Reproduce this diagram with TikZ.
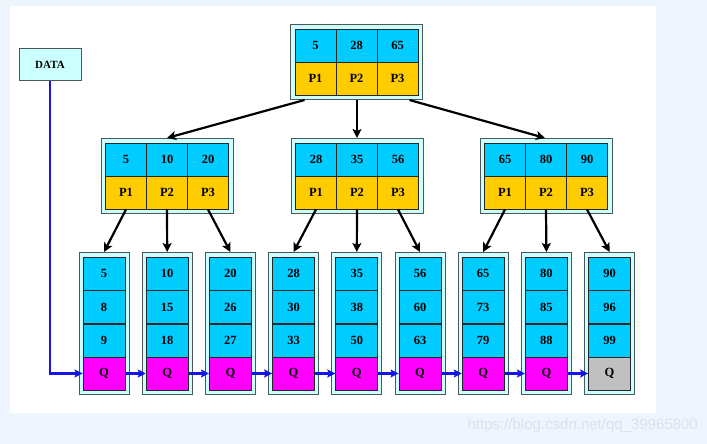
\documentclass[tikz,border=0pt]{standalone}
\usepackage{fontspec}
\setmainfont{Liberation Serif}
\newfontfamily\wmfont{Liberation Sans}
\usetikzlibrary{arrows.meta,calc}
\definecolor{bgblue}{HTML}{EEF5FC}
\definecolor{cellcyan}{HTML}{00CCFF}
\definecolor{cellgold}{HTML}{FFCC00}
\definecolor{cellmag}{HTML}{FF00FF}
\definecolor{cellgray}{HTML}{C0C0C0}
\definecolor{boxfill}{HTML}{CCFFFF}
\definecolor{boxline}{HTML}{4A5858}
\definecolor{linkblue}{HTML}{1414E6}
\definecolor{wmark}{HTML}{DCE2E9}
\tikzset{
  outerH/.style={rectangle, draw=boxline, fill=boxfill, line width=1pt, minimum width=132pt, minimum height=75pt, inner sep=0pt},
  outerV/.style={rectangle, draw=boxline, fill=boxfill, line width=1pt, minimum width=50pt, minimum height=142pt, inner sep=0pt},
  cell/.style={rectangle, draw=black!85, line width=0.9pt, minimum width=41pt, minimum height=33pt, inner sep=0pt, font=\fontsize{12.5}{14}\selectfont\bfseries},
  keycell/.style={cell, fill=cellcyan},
  ptrcell/.style={cell, fill=cellgold},
  lkey/.style={keycell, minimum width=42pt},
  lq/.style={cell, minimum width=42pt},
  databox/.style={rectangle, draw=boxline, fill=boxfill, line width=1pt, minimum width=62pt, minimum height=32pt, inner sep=0pt, font=\fontsize{11}{13}\selectfont\bfseries},
  tarr/.style={draw=black, line width=2.2pt, -{Stealth[length=9pt,width=9pt,inset=2pt]}},
  barr/.style={draw=linkblue, line width=2.4pt, -{Stealth[length=8pt,width=8pt,inset=1.5pt]}}
}
\begin{document}
\begin{tikzpicture}[x=1pt,y=-1pt]
\useasboundingbox (0,0) rectangle (707,444);
\fill[bgblue] (0,0) rectangle (707,444);
\fill[white] (10,6) rectangle (656,413);
% internal nodes
\foreach \nm/\cx/\cy/\ka/\kb/\kc in {rt/356.5/62/5/28/65, na/167/176/5/10/20, nb/357/176/28/35/56, nc/546/176/65/80/90}{
  \node[outerH] (\nm) at (\cx,\cy) {};
  \node[keycell] (\nm k1) at (\cx-41,\cy-16.5) {\ka};
  \node[keycell] (\nm k2) at (\cx,\cy-16.5) {\kb};
  \node[keycell] (\nm k3) at (\cx+41,\cy-16.5) {\kc};
  \node[ptrcell] (\nm p1) at (\cx-41,\cy+16.5) {P1};
  \node[ptrcell] (\nm p2) at (\cx,\cy+16.5) {P2};
  \node[ptrcell] (\nm p3) at (\cx+41,\cy+16.5) {P3};
}
% leaves
\foreach \i/\a/\b/\c in {1/5/8/9, 2/10/15/18, 3/20/26/27, 4/28/30/33, 5/35/38/50, 6/56/60/63, 7/65/73/79, 8/80/85/88, 9/90/96/99}{
  \pgfmathsetmacro{\lx}{104+63.2*(\i-1)}
  \node[outerV] (lf\i) at (\lx,323.5) {};
  \node[lkey] (lf\i a) at (\lx,273.5) {\a};
  \node[lkey] (lf\i b) at (\lx,307) {\b};
  \node[lkey] (lf\i c) at (\lx,340.5) {\c};
  \ifnum\i=9
    \node[lq, fill=cellgray] (lf\i q) at (\lx,373.5) {Q};
  \else
    \node[lq, fill=cellmag] (lf\i q) at (\lx,373.5) {Q};
  \fi
}
% DATA
\node[databox] (data) at (50,65) {DATA};
% root to level 2
\draw[tarr] ([xshift=-52pt]rt.south) -- (na.north);
\draw[tarr] ([xshift=0.5pt]rt.south) -- (nb.north);
\draw[tarr] ([xshift=53pt]rt.south) -- ([xshift=-1pt]nc.north);
% level 2 to leaves
\foreach \n/\a/\b/\c in {na/1/2/3, nb/4/5/6, nc/7/8/9}{
  \draw[tarr] (\n p1.south) -- (lf\a.north);
  \draw[tarr] (\n p2.south) -- (lf\b.north);
  \draw[tarr] (\n p3.south) -- (lf\c.north);
}
% leaf chain
\draw[barr] (data.south) |- (lf1q.west);
\foreach \i [evaluate=\i as \j using int(\i+1)] in {1,...,8}{
  \draw[barr] (lf\i q.east) -- (lf\j q.west);
}
% watermark
\node[anchor=east, text=wmark, font=\wmfont\fontsize{15}{17}\selectfont, inner sep=0pt] (wm) at (698,426) {https://blog.csdn.net/qq\_39965800};
\end{tikzpicture}
\end{document}
